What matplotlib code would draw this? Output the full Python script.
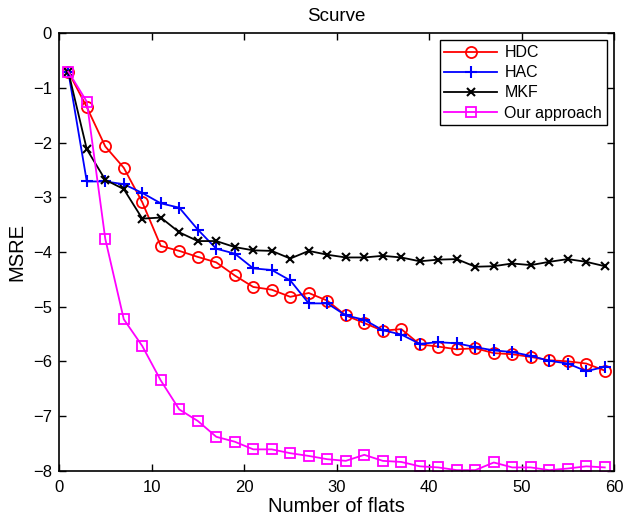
import matplotlib
matplotlib.use("Agg")
import matplotlib.pyplot as plt

plt.rcParams['font.family'] = ['Liberation Sans', 'DejaVu Sans']

flats = list(range(1, 60, 2))

hdc = [-0.70, -1.35, -2.07, -2.46, -3.09, -3.89, -3.98, -4.09, -4.19, -4.43,
       -4.64, -4.69, -4.82, -4.75, -4.89, -5.16, -5.30, -5.44, -5.41, -5.69,
       -5.73, -5.78, -5.76, -5.85, -5.87, -5.92, -5.98, -6.00, -6.04, -6.17]
hac = [-0.70, -2.71, -2.71, -2.76, -2.92, -3.11, -3.19, -3.59, -3.94, -4.03,
       -4.30, -4.33, -4.52, -4.94, -4.94, -5.16, -5.24, -5.43, -5.51, -5.68,
       -5.65, -5.67, -5.74, -5.80, -5.83, -5.90, -5.99, -6.04, -6.18, -6.10]
mkf = [-0.70, -2.12, -2.68, -2.85, -3.39, -3.37, -3.64, -3.80, -3.80, -3.91,
       -3.97, -3.98, -4.12, -3.98, -4.05, -4.10, -4.10, -4.07, -4.10, -4.17,
       -4.14, -4.13, -4.27, -4.26, -4.21, -4.24, -4.18, -4.13, -4.18, -4.26]
ours = [-0.70, -1.25, -3.76, -5.23, -5.72, -6.35, -6.88, -7.09, -7.38, -7.47,
        -7.61, -7.61, -7.68, -7.73, -7.79, -7.82, -7.71, -7.82, -7.84, -7.92,
        -7.94, -7.99, -7.99, -7.85, -7.94, -7.94, -7.99, -7.96, -7.92, -7.94]

fig = plt.figure(figsize=(6.24, 5.16), dpi=100)
ax = fig.add_axes([0.0946, 0.0878, 0.8894, 0.8477])

lw = 1.3
ax.plot(flats, hdc, color='#ff0000', marker='o', markersize=8, markerfacecolor='none',
        markeredgewidth=1.3, linewidth=lw, label='HDC')
ax.plot(flats, hac, color='#0000ff', marker='+', markersize=9, markeredgewidth=1.5,
        linewidth=lw, label='HAC')
ax.plot(flats, mkf, color='#000000', marker='x', markersize=6, markeredgewidth=1.5,
        linewidth=lw, label='MKF')
ax.plot(flats, ours, color='#ff00ff', marker='s', markersize=6.5, markerfacecolor='none',
        markeredgewidth=1.3, linewidth=lw, label='Our approach')

ax.set_xlim(0, 60)
ax.set_ylim(-8, 0)
ax.set_xticks([0, 10, 20, 30, 40, 50, 60])
ax.set_yticks(list(range(-8, 1)))
ax.tick_params(direction='in', top=True, right=True, labelsize=12, length=5, width=1)
ax.tick_params(axis='x', pad=7)
ax.tick_params(axis='y', pad=5)
for s in ax.spines.values():
    s.set_linewidth(1.2)

ax.set_title('Scurve', fontsize=13.5, pad=9)
ax.set_xlabel('Number of flats', fontsize=14.5, labelpad=1)
ax.set_ylabel('MSRE', fontsize=14.5, labelpad=5)

leg = ax.legend(loc='upper right', fontsize=11.5, fancybox=False, framealpha=1,
                edgecolor='black', handlelength=3.3, borderpad=0.3, labelspacing=0.32,
                handletextpad=0.45, borderaxespad=0.45)
leg.get_frame().set_linewidth(1.0)

fig.savefig('out.png', dpi=100)
